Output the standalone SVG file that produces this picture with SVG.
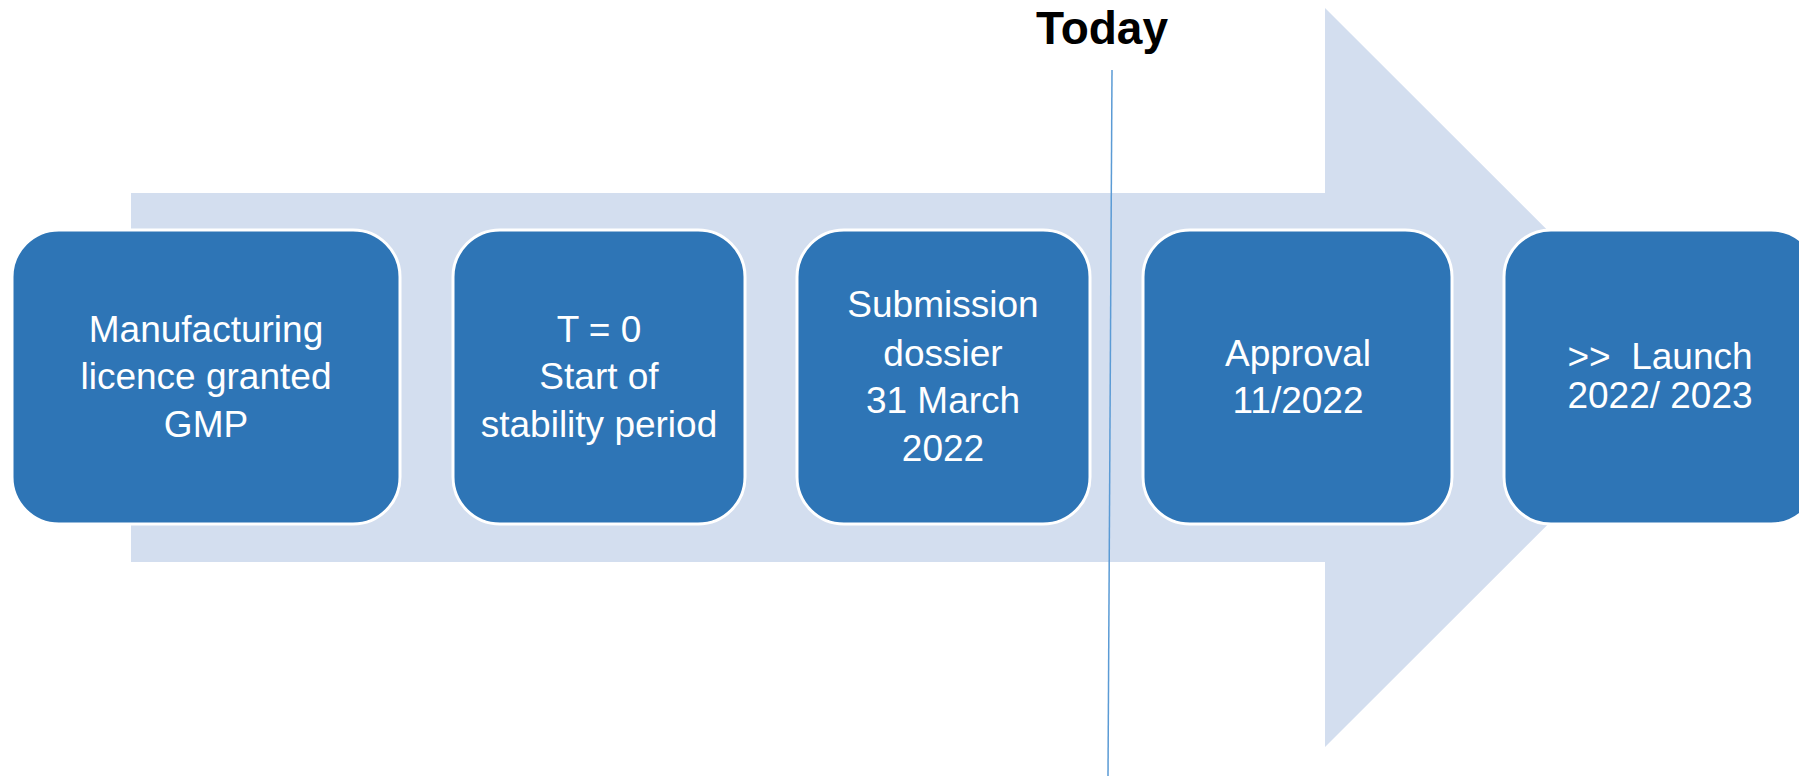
<svg xmlns="http://www.w3.org/2000/svg" width="1799" height="776" viewBox="0 0 1799 776">
  <style>
    .step rect { fill: #2E75B6; stroke: #FFFFFF; stroke-width: 3; }
    .step text { fill: #FFFFFF; font-family: "Liberation Sans", Arial, sans-serif; font-size: 37px; text-anchor: middle; white-space: pre; }
    .title { fill: #000000; font-family: "Liberation Sans", Arial, sans-serif; font-size: 46px; font-weight: bold; text-anchor: middle; }
  </style>
  <rect width="1799" height="776" fill="#FFFFFF"/>

  <!-- background timeline arrow -->
  <g id="timeline-arrow">
    <polygon points="131,193 1325,193 1325,8 1695,377.5 1325,747 1325,562 131,562" fill="#D3DEEF"/>
  </g>

  <!-- "Today" marker -->
  <g id="today">
    <text class="title" x="1102" y="44">Today</text>
  </g>
  <g id="connectors">
    <line x1="1112" y1="70" x2="1108" y2="776" stroke="#5B9BD5" stroke-width="1.5"/>
  </g>

  <!-- milestone steps -->
  <g id="step-manufacturing" class="step">
    <rect x="12" y="230" width="388" height="294" rx="47" ry="47"/>
    <text x="206" y="342">Manufacturing</text>
    <text x="206" y="389">licence granted</text>
    <text x="206" y="437">GMP</text>
  </g>

  <g id="step-t0" class="step">
    <rect x="453" y="230" width="292" height="294" rx="47" ry="47"/>
    <text x="599" y="342">T = 0</text>
    <text x="599" y="389">Start of</text>
    <text x="599" y="437">stability period</text>
  </g>

  <g id="step-submission" class="step">
    <rect x="797" y="230" width="293" height="294" rx="47" ry="47"/>
    <text x="943" y="317">Submission</text>
    <text x="943" y="366">dossier</text>
    <text x="943" y="413">31 March</text>
    <text x="943" y="461">2022</text>
  </g>

  <g id="step-approval" class="step">
    <rect x="1143" y="230" width="309" height="294" rx="47" ry="47"/>
    <text x="1298" y="366">Approval</text>
    <text x="1298" y="413">11/2022</text>
  </g>

  <g id="step-launch" class="step">
    <rect x="1504" y="230" width="314" height="294" rx="47" ry="47"/>
    <text x="1660" y="369">&gt;&gt;  Launch</text>
    <text x="1660" y="408">2022/ 2023</text>
  </g>
</svg>
